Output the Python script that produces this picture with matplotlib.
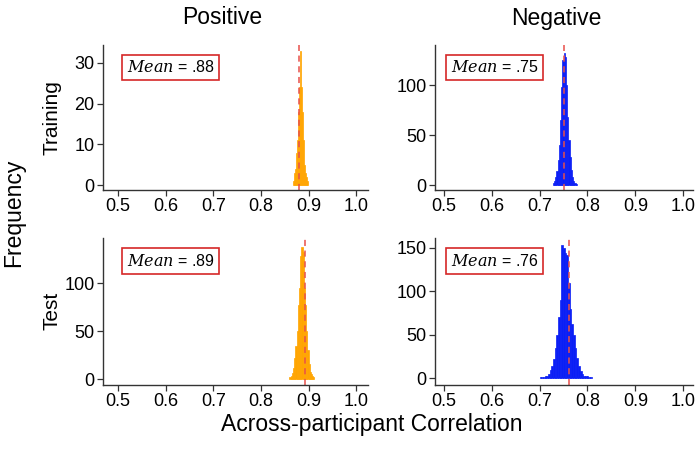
import matplotlib
matplotlib.use("Agg")
import matplotlib.pyplot as plt
import numpy as np

plt.rcParams['font.family'] = ['Liberation Sans', 'DejaVu Sans']
plt.rcParams['mathtext.fontset'] = 'dejavuserif'

# ---- data (bin starts, bin widths, counts) ----
pos_train_start = 0.868
pos_train_width = 0.002
pos_train_counts = [1, 3, 4, 8, 11, 18, 24, 33, 24, 18, 11, 5, 3, 2, 1]
pos_train_mean = 0.88

pos_test_start = 0.860
pos_test_width = 0.0025
pos_test_counts = [2, 3, 6, 12, 22, 35, 50, 77, 95, 128, 138, 132, 95, 77, 50, 30, 16, 8, 5, 3, 2]
pos_test_mean = 0.892

neg_train_start = 0.7275
neg_train_width = 0.0025
neg_train_counts = [2, 4, 8, 14, 25, 40, 65, 98, 125, 132, 128, 100, 68, 45, 28, 15, 8, 4, 2, 1]
neg_train_mean = 0.7505

neg_test_start = 0.700
neg_test_width = 0.0035
neg_test_counts = [1, 1, 1, 2, 3, 5, 9, 14, 22, 35, 50, 70, 90, 154, 150, 144, 142, 110, 80, 62,
                   50, 35, 23, 14, 8, 5, 3, 2, 2, 1, 1]
neg_test_mean = 0.761

mean_labels = [[".88", ".75"], [".89", ".76"]]
col_titles = ["Positive", "Negative"]
row_titles = ["Training", "Test"]
x_ticks = [0.5, 0.6, 0.7, 0.8, 0.9, 1.0]
x_ticklabels = ["0.5", "0.6", "0.7", "0.8", "0.9", "1.0"]
y_ticks = [[[0, 10, 20, 30], [0, 50, 100]], [[0, 50, 100], [0, 50, 100, 150]]]

ORANGE = "#FFA500"
BLUE = "#0A1EF5"

panels = [
    [(pos_train_start, pos_train_width, pos_train_counts, pos_train_mean, ORANGE),
     (neg_train_start, neg_train_width, neg_train_counts, neg_train_mean, BLUE)],
    [(pos_test_start, pos_test_width, pos_test_counts, pos_test_mean, ORANGE),
     (neg_test_start, neg_test_width, neg_test_counts, neg_test_mean, BLUE)],
]

W, H = 700, 449
fig = plt.figure(figsize=(7, 4.49), dpi=100)

col_x = [(103, 368), (435, 693)]
row_y = [(45, 190), (238, 385)]
xlims = [(0.468, 1.025), (0.482, 1.020)]
ylims = [[(-1.2, 34.4), (-5, 140)], [(-6, 147), (-7.8, 161.5)]]

for r in range(2):
    for c in range(2):
        x0, x1 = col_x[c]
        y0, y1 = row_y[r]
        ax = fig.add_axes([x0 / W, 1 - y1 / H, (x1 - x0) / W, (y1 - y0) / H])
        start, width, counts, mean, color = panels[r][c]
        n = len(counts)
        lefts = start + width * np.arange(n)
        ax.bar(lefts, counts, width=width, align='edge', color=color,
               edgecolor=color, linewidth=0.5)
        ax.axvline(mean, color="#E8504A", linestyle=(0, (4, 3)), linewidth=1.1)
        ax.set_xlim(*xlims[c])
        ax.set_ylim(*ylims[r][c])
        ax.set_xticks(x_ticks)
        ax.set_xticklabels(x_ticklabels)
        ax.set_yticks(y_ticks[r][c])
        for s in ['top', 'right']:
            ax.spines[s].set_visible(False)
        for s in ['left', 'bottom']:
            ax.spines[s].set_color('#333333')
            ax.spines[s].set_linewidth(1.0)
        ax.tick_params(axis='both', labelsize=13, length=4, width=0.9,
                       color='#333333', labelcolor='black', pad=2)
        ax.text(0.061 if c == 1 else 0.09, 0.845,
                r"$\mathit{Mean}$ = " + mean_labels[r][c],
                transform=ax.transAxes, fontsize=11.5, ha='left', va='center',
                bbox=dict(boxstyle='square,pad=0.3', facecolor='white',
                          edgecolor='#D62728', linewidth=1.2))

fig.text(222 / W, 1 - 18 / H, col_titles[0], fontsize=16.5, ha='center', va='center')
fig.text(556 / W, 1 - 18 / H, col_titles[1], fontsize=16.5, ha='center', va='center')
fig.text(52 / W, 1 - 118 / H, row_titles[0], fontsize=15, ha='center', va='center', rotation=90)
fig.text(52 / W, 1 - 311 / H, row_titles[1], fontsize=15, ha='center', va='center', rotation=90)
fig.text(14 / W, 1 - 213 / H, "Frequency", fontsize=16.5, ha='center', va='center', rotation=90)
fig.text(372 / W, 1 - 424 / H, "Across-participant Correlation", fontsize=16.5, ha='center', va='center')

fig.savefig("out.png", dpi=100, facecolor='white')
